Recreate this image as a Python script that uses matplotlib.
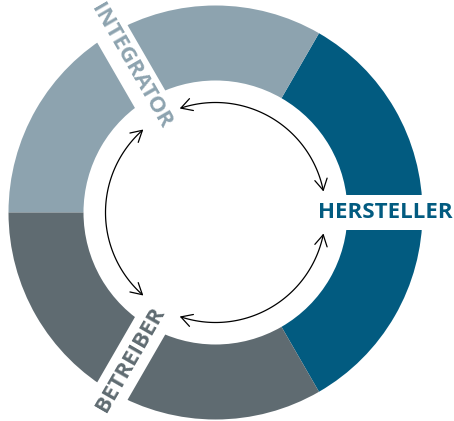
import numpy as np
import matplotlib
matplotlib.use("Agg")
import matplotlib.pyplot as plt
from matplotlib.patches import Wedge, Polygon, FancyArrowPatch
from matplotlib.path import Path

# ---- data ----
labels = ["HERSTELLER", "INTEGRATOR", "BETREIBER"]
label_angles = [0, 120, 240]           # direction of each label (deg)
seg_start = [-60, 60, 180]             # segment start angles (deg)
seg_span = [120, 120, 120]             # segment spans (deg)
seg_colors = ["#025b80", "#8da3af", "#5f6b71"]
text_rot = [0, -60, 60]

W, H = 454, 421
cx, cy = 215.5, 212.5
R_out, R_in = 207, 132
R_arrow = 110
strip_w = 35

fig = plt.figure(figsize=(W / 100, H / 100), dpi=100)
ax = fig.add_axes([0, 0, 1, 1])
ax.set_xlim(-cx, W - cx)
ax.set_ylim(-(H - cy), cy)
ax.set_aspect("equal")
ax.axis("off")

for s, sp, c in zip(seg_start, seg_span, seg_colors):
    ax.add_patch(Wedge((0, 0), R_out, s, s + sp, width=R_out - R_in,
                       facecolor=c, edgecolor="none"))

for ang, lab, c, rot in zip(label_angles, labels, seg_colors, text_rot):
    t = np.deg2rad(ang)
    u = np.array([np.cos(t), np.sin(t)])
    n = np.array([-np.sin(t), np.cos(t)])
    r0, r1 = R_in - 10, R_out + 10
    pts = [r0 * u - n * strip_w / 2, r1 * u - n * strip_w / 2,
           r1 * u + n * strip_w / 2, r0 * u + n * strip_w / 2]
    ax.add_patch(Polygon(pts, closed=True, facecolor="white", edgecolor="none"))
    rt = 169.5
    ax.text(rt * u[0], rt * u[1], lab, color=c, rotation=rot,
            rotation_mode="anchor", ha="center", va="center",
            fontsize=16, fontfamily="Open Sans", fontweight="bold")

gap = 11
for ang in label_angles:
    th = np.deg2rad(np.linspace(ang + gap, ang + 120 - gap, 80))
    verts = np.column_stack([R_arrow * np.cos(th), R_arrow * np.sin(th)])
    p = Path(verts)
    ax.add_patch(FancyArrowPatch(path=p, arrowstyle="<->,head_length=0.8,head_width=0.45",
                                 mutation_scale=10, lw=0.9, color="black"))

fig.savefig("out.png", dpi=100)
